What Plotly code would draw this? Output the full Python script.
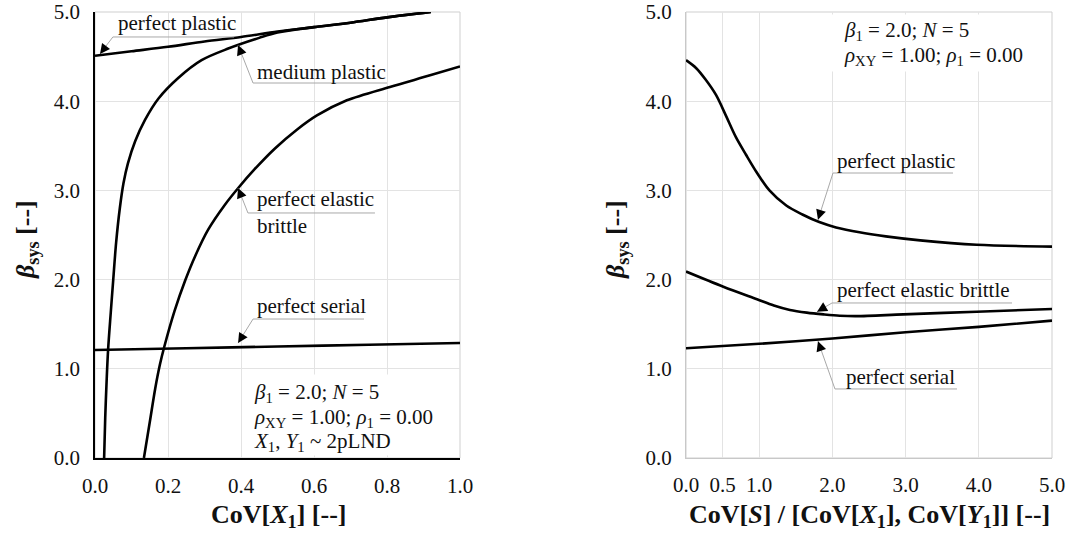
import plotly.graph_objects as go

# ---------------- data ----------------
# Left panel: beta_sys vs CoV[X1]
left_pp_x = [0.0, 0.1, 0.2, 0.3, 0.4, 0.5, 0.6, 0.7, 0.8, 0.92]
left_pp_y = [4.51, 4.56, 4.61, 4.67, 4.72, 4.78, 4.83, 4.88, 4.94, 5.0]

left_mp_x = [0.025, 0.028, 0.032, 0.036, 0.043, 0.050, 0.058, 0.068, 0.078, 0.090, 0.110,
             0.137, 0.174, 0.228, 0.292, 0.365, 0.45, 0.5, 0.6, 0.7, 0.8, 0.92]
left_mp_y = [0.0, 0.45, 0.88, 1.22, 1.62, 2.0, 2.42, 2.80, 3.08, 3.30, 3.55,
             3.79, 4.03, 4.26, 4.46, 4.59, 4.71, 4.77, 4.83, 4.88, 4.94, 5.0]

left_peb_x = [0.134, 0.15, 0.165, 0.178, 0.19, 0.218, 0.247, 0.274, 0.31, 0.356, 0.393,
              0.438, 0.493, 0.553, 0.608, 0.69, 0.808, 0.918, 1.0]
left_peb_y = [0.0, 0.4, 0.78, 1.05, 1.25, 1.65, 1.99, 2.26, 2.56, 2.84, 3.03,
              3.24, 3.47, 3.68, 3.84, 4.01, 4.16, 4.29, 4.39]

left_ps_x = [0.0, 0.25, 0.5, 0.75, 1.0]
left_ps_y = [1.21, 1.23, 1.25, 1.27, 1.29]

# Right panel: beta_sys vs CoV[S] / [CoV[X1], CoV[Y1]]
right_pp_x = [0.0, 0.14, 0.27, 0.41, 0.55, 0.68, 0.82, 0.96, 1.14, 1.37, 1.59, 1.82,
              2.05, 2.37, 2.73, 3.2, 3.97, 5.0]
right_pp_y = [4.46, 4.37, 4.24, 4.07, 3.83, 3.60, 3.40, 3.21, 3.00, 2.83, 2.73, 2.645,
              2.585, 2.53, 2.485, 2.44, 2.39, 2.37]

right_peb_x = [0.0, 0.51, 0.97, 1.2, 1.42, 1.65, 1.88, 2.1, 2.33, 2.97, 3.97, 5.0]
right_peb_y = [2.09, 1.92, 1.78, 1.71, 1.66, 1.63, 1.61, 1.595, 1.59, 1.61, 1.64, 1.67]

right_ps_x = [0.0, 1.0, 2.0, 3.0, 4.0, 5.0]
right_ps_y = [1.23, 1.28, 1.34, 1.41, 1.47, 1.54]

left_xticks = [0.0, 0.2, 0.4, 0.6, 0.8, 1.0]
left_xtick_text = ["0.0", "0.2", "0.4", "0.6", "0.8", "1.0"]
right_xticks = [0.0, 0.5, 1.0, 2.0, 3.0, 4.0, 5.0]
right_xtick_text = ["0.0", "0.5", "1.0", "2.0", "3.0", "4.0", "5.0"]
yticks = [0.0, 1.0, 2.0, 3.0, 4.0, 5.0]
ytick_text = ["0.0", "1.0", "2.0", "3.0", "4.0", "5.0"]

# ---------------- layout constants ----------------
W, H = 1077, 534
FONT = "Liberation Serif, Times New Roman, serif"
GRID = "#e3e3e3"
LEAD = "#a8a8a8"
XD1 = [95 / W, 460 / W]
XD2 = [686 / W, 1052 / W]
YD = [(H - 458) / H, (H - 12) / H]
SX1 = (XD1[1] - XD1[0]) * W / 1.0
SX2 = (XD2[1] - XD2[0]) * W / 5.0
SY = (YD[1] - YD[0]) * H / 5.0

fig = go.Figure()
line = dict(color="black", width=2.6, shape="spline", smoothing=0.9)
for xs, ys in [(left_pp_x, left_pp_y), (left_mp_x, left_mp_y),
               (left_peb_x, left_peb_y), (left_ps_x, left_ps_y)]:
    fig.add_trace(go.Scatter(x=xs, y=ys, mode="lines", line=line,
                             xaxis="x", yaxis="y", showlegend=False, hoverinfo="skip"))
for xs, ys in [(right_pp_x, right_pp_y), (right_peb_x, right_peb_y), (right_ps_x, right_ps_y)]:
    fig.add_trace(go.Scatter(x=xs, y=ys, mode="lines", line=line,
                             xaxis="x2", yaxis="y2", showlegend=False, hoverinfo="skip"))

tickfont = dict(family=FONT, size=21, color="#111")
common = dict(showgrid=True, gridcolor=GRID, gridwidth=1, zeroline=False, automargin=False,
              ticks="", tickfont=tickfont, fixedrange=True)
fig.update_layout(
    width=W, height=H, margin=dict(l=0, r=0, t=0, b=0, autoexpand=False),
    paper_bgcolor="white", plot_bgcolor="white", showlegend=False,
    xaxis=dict(domain=XD1, range=[0, 1.0], tickvals=left_xticks, ticktext=left_xtick_text,
               showline=True, linecolor="black", linewidth=1.5, ticklabelstandoff=8,
               anchor="y", **common),
    yaxis=dict(domain=YD, range=[0, 5.0], tickvals=yticks, ticktext=ytick_text,
               showline=True, linecolor="black", linewidth=1.5, ticklabelstandoff=9,
               anchor="x", **common),
    xaxis2=dict(domain=XD2, range=[0, 5.0], tickvals=right_xticks, ticktext=right_xtick_text,
                showline=True, linecolor="#c8c8c8", linewidth=1, ticklabelstandoff=8,
                anchor="y2", **common),
    yaxis2=dict(domain=YD, range=[0, 5.0], tickvals=yticks, ticktext=ytick_text,
                showline=True, linecolor="#c8c8c8", linewidth=1, ticklabelstandoff=9,
                anchor="x2", **common),
)

shapes = []
annotations = []
# light frames round both plot areas
for xr, yr in [("x", "y"), ("x2", "y2")]:
    shapes.append(dict(type="rect", xref=xr + " domain", yref=yr + " domain",
                       x0=0, x1=1, y0=0, y1=1, line=dict(color="#cfcfcf", width=1),
                       layer="below"))

txtfont = dict(family=FONT, size=21, color="#111")

# white boxes behind the parameter text (empty annotations with a white background)
annotations.append(dict(xref="x", yref="y", x=0.419, y=0.02, text=" ", showarrow=False,
                        xanchor="left", yanchor="bottom", width=186, height=80,
                        bgcolor="white", borderpad=0))
annotations.append(dict(xref="x2", yref="y2", x=1.9, y=4.33, text=" ", showarrow=False,
                        xanchor="left", yanchor="bottom", width=215, height=56,
                        bgcolor="white", borderpad=0))


def callout(xr, yr, sx, text, tx, ty, ux0, ux1, uy, px, py):
    shapes.append(dict(type="line", xref=xr, yref=yr, x0=ux0, x1=ux1, y0=uy, y1=uy,
                       line=dict(color=LEAD, width=1), layer="above"))
    shapes.append(dict(type="line", xref=xr, yref=yr, x0=ux0, x1=px, y0=uy, y1=py,
                       line=dict(color=LEAD, width=1), layer="above"))
    dx = (ux0 - px) * sx
    dy = -(uy - py) * SY
    n = (dx * dx + dy * dy) ** 0.5
    L = 10.0
    annotations.append(dict(xref=xr, yref=yr, x=px, y=py, text="", showarrow=True,
                            ax=dx / n * L, ay=dy / n * L, arrowhead=2, arrowsize=2.0,
                            arrowwidth=1, arrowcolor="black", standoff=0))
    annotations.append(dict(xref=xr, yref=yr, x=tx, y=ty, text=text, showarrow=False,
                            xanchor="left", yanchor="middle", align="left", font=txtfont))


callout("x", "y", SX1, "perfect plastic", 0.0575, 4.877, 0.049, 0.381, 4.72, 0.0137, 4.53)
callout("x", "y", SX1, "medium plastic", 0.438, 4.327, 0.433, 0.80, 4.204, 0.392, 4.63)
callout("x", "y", SX1, "perfect elastic<br>brittle", 0.438, 2.752, 0.419, 0.767, 2.747, 0.392, 3.027)
callout("x", "y", SX1, "perfect serial", 0.438, 1.704, 0.433, 0.737, 1.558, 0.392, 1.289)

callout("x2", "y2", SX2, "perfect plastic", 2.035, 3.33, 2.008, 3.648, 3.195, 1.803, 2.67)
callout("x2", "y2", SX2, "perfect elastic brittle", 2.035, 1.883, 1.995, 4.454, 1.738, 1.79, 1.64)
callout("x2", "y2", SX2, "perfect serial", 2.158, 0.908, 2.035, 3.702, 0.774, 1.803, 1.31)

# parameter text
params_left = ["<i>β</i><sub>1</sub> = 2.0; <i>N</i> = 5",
               "<i>ρ</i><sub>XY</sub> = 1.00; <i>ρ</i><sub>1</sub> = 0.00",
               "<i>X</i><sub>1</sub>, <i>Y</i><sub>1</sub> ~ 2pLND"]
for t, yy in zip(params_left, [0.729, 0.448, 0.179]):
    annotations.append(dict(xref="x", yref="y", x=0.43, y=yy, text=t, showarrow=False,
                            xanchor="left", yanchor="middle", font=txtfont))
for t, yy in zip(params_left[:2], [4.787, 4.507]):
    annotations.append(dict(xref="x2", yref="y2", x=2.13, y=yy, text=t, showarrow=False,
                            xanchor="left", yanchor="middle", font=txtfont))

# axis titles
titlefont = dict(family=FONT, size=26, color="#111")
annotations.append(dict(xref="paper", yref="paper", x=278 / W, y=(H - 516) / H,
                        text="<b>CoV[<i>X</i><sub>1</sub>] [--]</b>", showarrow=False,
                        xanchor="center", yanchor="middle", font=titlefont))
annotations.append(dict(xref="paper", yref="paper", x=869 / W, y=(H - 516) / H,
                        text="<b>CoV[<i>S</i>] / [CoV[<i>X</i><sub>1</sub>], CoV[<i>Y</i><sub>1</sub>]] [--]</b>",
                        showarrow=False, xanchor="center", yanchor="middle", font=titlefont))
for xp in [27 / W, 617 / W]:
    annotations.append(dict(xref="paper", yref="paper", x=xp, y=(H - 240) / H,
                            text="<b><i>β</i><sub>sys</sub> [--]</b>", showarrow=False,
                            textangle=-90, xanchor="center", yanchor="middle", font=titlefont))

fig.update_layout(shapes=shapes, annotations=annotations)
fig.write_html("out.html", config={"displayModeBar": False},
               post_script="document.body.style.margin='0px';")
